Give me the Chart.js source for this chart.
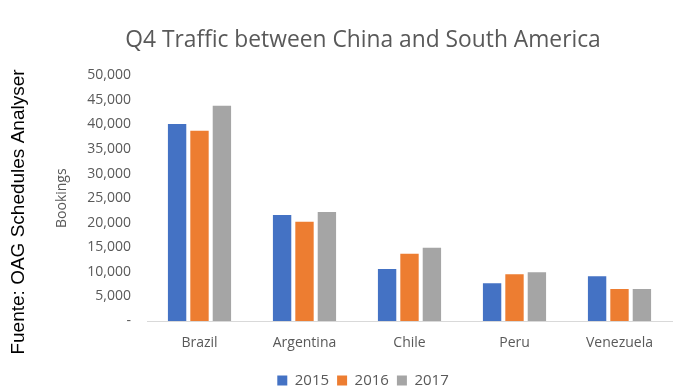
<!DOCTYPE html>
<html>
<head>
<meta charset="utf-8">
<script src="https://cdn.jsdelivr.net/npm/chart.js@4/dist/chart.umd.min.js"></script>
<style>
html,body{margin:0;padding:0;background:#fff;}
#wrap{width:684px;height:392px;position:relative;}
</style>
</head>
<body>
<div id="wrap"><canvas id="c" width="684" height="392"></canvas></div>
<script>
const categories = ["Brazil", "Argentina", "Chile", "Peru", "Venezuela"];
const seriesNames = ["2015", "2016", "2017"];
const values2015 = [40100, 21600, 10600, 7700, 9100];
const values2016 = [38700, 20200, 13700, 9500, 6500];
const values2017 = [43800, 22200, 14900, 9900, 6500];
const colors = ["#4472C4", "#ED7D31", "#A5A5A5"];
const titleText = "Q4 Traffic between China and South America";
const yTitle = "Bookings";
const sourceText = "Fuente: OAG Schedules Analyser";

const sourcePlugin = {
  id: 'sourceText',
  afterDraw(chart) {
    const ctx = chart.ctx;
    ctx.save();
    ctx.translate(19, 212);
    ctx.rotate(-Math.PI / 2);
    ctx.font = "19px 'Liberation Sans', Arial, sans-serif";
    ctx.fillStyle = "#000";
    ctx.textAlign = "center";
    ctx.textBaseline = "middle";
    ctx.fillText(sourceText, 0, 0);
    ctx.restore();
  }
};

const gray = "#595959";
new Chart(document.getElementById('c'), {
  type: 'bar',
  data: {
    labels: categories,
    datasets: [values2015, values2016, values2017].map((v, i) => ({
      label: seriesNames[i],
      data: v,
      backgroundColor: colors[i],
      borderWidth: 0,
      categoryPercentage: 0.64,
      barPercentage: 0.82
    }))
  },
  options: {
    responsive: false,
    animation: false,
    devicePixelRatio: 1,
    layout: { padding: { left: 54, right: 12, top: 27, bottom: -6 } },
    plugins: {
      title: {
        display: true,
        text: titleText,
        color: gray,
        font: { family: "'Open Sans', sans-serif", size: 22.8, weight: 'normal' },
        padding: { top: 0, bottom: 21 }
      },
      legend: {
        position: 'bottom',
        labels: {
          boxWidth: 10, boxHeight: 10, color: gray,
          font: { family: "'Open Sans', sans-serif", size: 15 },
          padding: 8
        }
      },
      tooltip: { enabled: false }
    },
    scales: {
      x: {
        grid: { display: false, drawTicks: false },
        border: { display: true, color: "#D9D9D9", width: 1 },
        ticks: { color: gray, font: { family: "'Open Sans', sans-serif", size: 14 }, padding: 14 },
        afterFit(scale) { scale.height = 44; }
      },
      y: {
        min: 0, max: 50000,
        grid: { display: false, drawTicks: false },
        border: { display: false },
        ticks: {
          stepSize: 5000,
          color: gray,
          padding: 16,
          font: { family: "'Open Sans', sans-serif", size: 14 },
          callback: (v) => v === 0 ? "-" : v.toLocaleString('en-US')
        },
        title: {
          display: true, text: yTitle, color: gray,
          font: { family: "'Open Sans', sans-serif", size: 14 },
          padding: 0
        },
        afterFit(scale) { scale.width = 93; }
      }
    }
  },
  plugins: [sourcePlugin]
});
</script>
</body>
</html>
